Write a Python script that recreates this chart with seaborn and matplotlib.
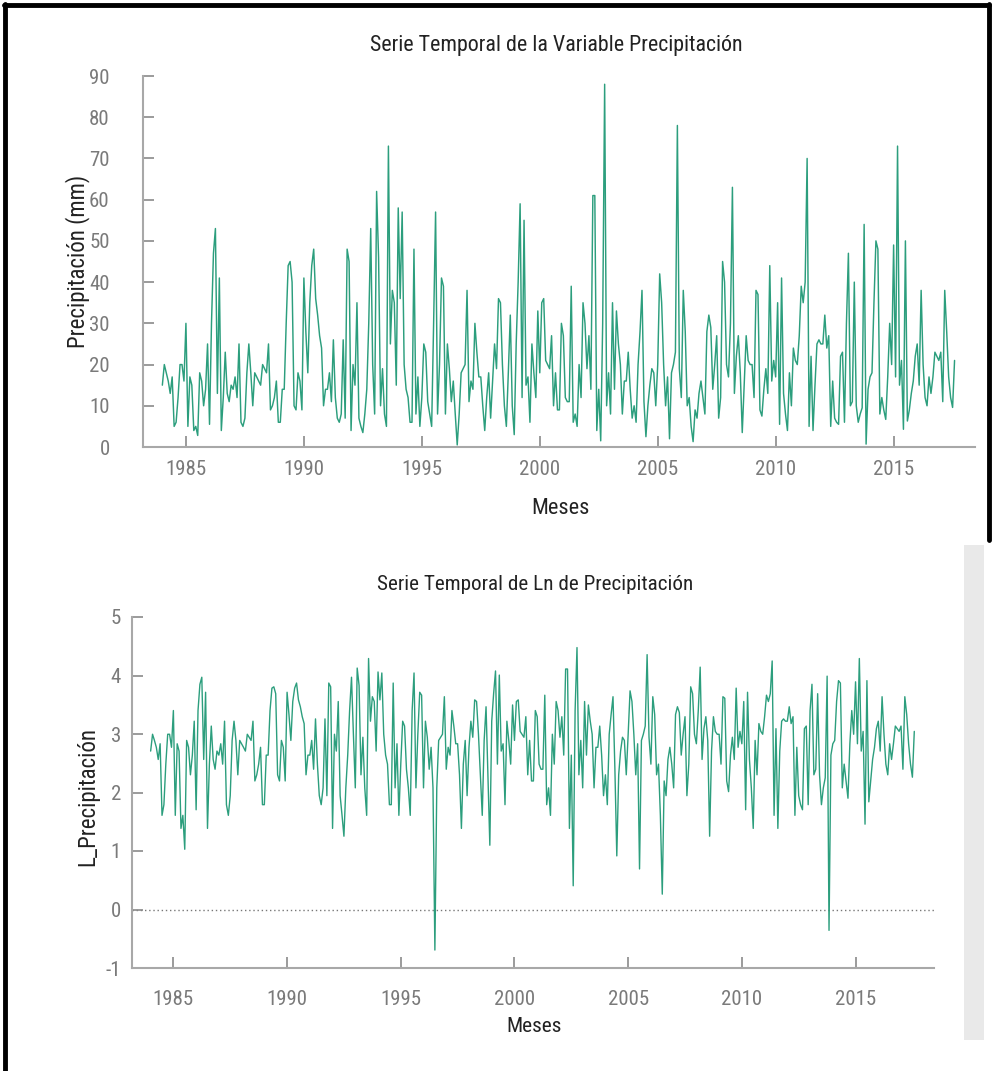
import numpy as np
import pandas as pd
import matplotlib
matplotlib.use("Agg")
import matplotlib.pyplot as plt
import seaborn as sns
from matplotlib.lines import Line2D
from matplotlib.patches import Rectangle
from matplotlib import font_manager

# ---------------- data (monthly precipitation, mm), Jan 1984 - Aug 2017 -------------
start_year = 1984
precip_1984_1988 = [15, 20, 18, 16, 13, 17, 5, 6, 12, 20, 20, 16,
                    30, 5, 17, 15, 4, 5, 2.8, 18, 16, 10, 14, 25,
                    5.5, 30, 47, 53, 13, 41, 4, 12, 23, 13, 11, 15,
                    14, 17, 12, 25, 6, 5, 7, 18, 25, 18, 10, 18,
                    17, 16, 15, 20, 19, 18, 25, 9, 10, 12, 16, 6]
precip_1989_1993 = [6, 14, 14, 30, 44, 45, 40, 10, 9, 18, 16, 9,
                    41, 28, 18, 35, 44, 48, 36, 32, 27, 24, 10, 14,
                    14, 18, 11, 26, 12, 7, 6, 8, 26, 7, 48, 45,
                    4, 20, 15, 35, 7, 5, 3.5, 8, 14, 30, 53, 20,
                    8, 62, 46, 10, 19, 8, 5, 73, 25, 38, 35, 15]
precip_1994_1998 = [58, 36, 57, 20, 14, 12, 6, 6, 48, 8, 17, 5,
                    12, 25, 23, 11, 8, 5, 30, 57, 8, 20, 41, 39,
                    8, 25, 19, 11, 16, 8, 0.5, 8, 18, 19, 20, 38,
                    11, 16, 14, 30, 23, 17, 17, 10, 4, 12, 18, 7,
                    16, 25, 19, 36, 35, 20, 10, 5, 18, 32, 10, 3]
precip_1999_2003 = [25, 40, 59, 12, 55, 15, 17, 6, 25, 18, 12, 33,
                    18, 35, 36, 21, 20, 19, 27, 10, 18, 9, 9, 30,
                    27, 12, 11, 11, 39, 6, 8, 5, 20, 12, 35, 30,
                    19, 27, 14, 61, 61, 4, 14, 1.5, 30, 88, 10, 18,
                    8, 35, 14, 33, 25, 20, 8, 16, 16, 23, 14, 7]
precip_2004_2008 = [10, 6, 20, 28, 38, 11, 2.5, 10, 15, 19, 18, 10,
                    20, 42, 35, 20, 10, 17, 2, 18, 20, 23, 78, 19,
                    12, 38, 28, 10, 12, 5, 1.3, 9, 7, 13, 16, 12,
                    8, 28, 32, 29, 14, 20, 27, 7, 12, 45, 40, 20,
                    17, 30, 63, 13, 22, 27, 18, 3.5, 15, 27, 21, 20]
precip_2009_2013 = [20, 12, 38, 37, 9, 7.5, 14, 19, 13, 44, 16, 21,
                    17, 35, 5.5, 41, 13, 8, 4, 18, 10, 24, 21, 20,
                    27, 39, 35, 40, 70, 5, 22, 4, 15, 25, 26, 25,
                    25, 32, 24, 27, 5, 16, 7, 6, 5.5, 22, 23, 6,
                    30, 47, 10, 11, 40, 10, 6, 8, 9.5, 54, 0.7, 14]
precip_2014_2017 = [17, 18, 35, 50, 48, 8, 12, 9, 6.7, 17, 30, 20,
                    49, 17, 73, 15, 21, 4.3, 50, 6.3, 9, 13, 16, 22,
                    25, 15, 38, 20, 12, 10, 17, 13, 17, 23, 22, 21,
                    23, 11, 38, 28, 17, 12, 9.6, 21]

year_ticks = [1985, 1990, 1995, 2000, 2005, 2010, 2015]
top_yticks = [0, 10, 20, 30, 40, 50, 60, 70, 80, 90]
bot_yticks = [-1, 0, 1, 2, 3, 4, 5]

precip = np.array(precip_1984_1988 + precip_1989_1993 + precip_1994_1998 +
                  precip_1999_2003 + precip_2004_2008 + precip_2009_2013 +
                  precip_2014_2017, dtype=float)
dates = pd.date_range(f"{start_year}-01-01", periods=len(precip), freq="MS")
anio = dates.year + (dates.month - 1) / 12.0
df = pd.DataFrame({"anio": anio, "precip": precip, "lprecip": np.log(precip)})

# ---------------- style ----------------
sns.set_theme(style="white")
names = {f.name for f in font_manager.fontManager.ttflist}
narrow = [n for n in ("Liberation Sans Narrow", "DejaVu Sans Condensed",
                      "Roboto Condensed", "Open Sans Condensed") if n in names]
plt.rcParams["font.family"] = narrow + ["DejaVu Sans"]
plt.rcParams["font.stretch"] = "condensed"
plt.rcParams["axes.unicode_minus"] = False

W, H = 993, 1071
fig = plt.figure(figsize=(W / 100, H / 100), dpi=100)
fig.patch.set_facecolor("white")

LINE = "#2c9e7d"
AXC = "#a8a8a8"
TICKC = "#7a7a7a"
TXT = "#222222"


def fx(x):
    return x / W


def fy(y):
    return 1 - y / H


def axes_px(l, t, r, b):
    return fig.add_axes([fx(l), fy(b), (r - l) / W, (b - t) / H])


def style_axes(ax, ypad, xpad, size):
    for s in ("top", "right"):
        ax.spines[s].set_visible(False)
    for s in ("left", "bottom"):
        ax.spines[s].set_color(AXC)
        ax.spines[s].set_linewidth(1.5)
    ax.tick_params(axis="both", direction="in", length=8, width=1.2,
                   color="#8a8a8a", labelcolor=TICKC, labelsize=size,
                   bottom=True, left=True, top=False, right=False)
    ax.tick_params(axis="y", pad=ypad)
    ax.tick_params(axis="x", pad=xpad)
    ax.set_xlabel("")
    ax.set_ylabel("")
    ax.grid(False)
    ax.set_facecolor("white")


# ---------------- top panel ----------------
ax1 = axes_px(143, 76, 975, 447)
sns.lineplot(data=df, x="anio", y="precip", ax=ax1, color=LINE, lw=1.05,
             legend=False)
ax1.set_xlim(1983.18, 2018.45)
ax1.set_ylim(0, 90)
ax1.set_xticks(year_ticks)
ax1.set_yticks(top_yticks)
style_axes(ax1, ypad=24, xpad=9, size=15)

fig.text(fx(556), fy(45), "Serie Temporal de la Variable Precipitación",
         ha="center", va="center", fontsize=15.8, color=TXT)
fig.text(fx(560), fy(508), "Meses", ha="center", va="center",
         fontsize=16, color=TXT)
fig.text(fx(78), fy(261), "Precipitación (mm)", ha="center", va="center",
         rotation=90, fontsize=16.5, color=TXT)

# ---------------- bottom panel ----------------
ax2 = axes_px(132, 617, 934, 968)
sns.lineplot(data=df, x="anio", y="lprecip", ax=ax2, color=LINE, lw=1.0,
             legend=False)
ax2.axhline(0, color="#777777", lw=1.0, ls=(0, (1, 2)), zorder=0)
ax2.set_xlim(1983.18, 2018.45)
ax2.set_ylim(-1, 5)
ax2.set_xticks(year_ticks)
ax2.set_yticks(bot_yticks)
style_axes(ax2, ypad=8, xpad=16, size=15)

fig.text(fx(535), fy(585), "Serie Temporal de Ln de Precipitación",
         ha="center", va="center", fontsize=15.2, color=TXT)
fig.text(fx(534), fy(1027), "Meses", ha="center", va="center",
         fontsize=15.4, color=TXT)
fig.text(fx(88), fy(796), "L_Precipitación", ha="center", va="center",
         rotation=90, fontsize=16.5, color=TXT)

# ---------------- screenshot decorations ----------------
fig.add_artist(Rectangle((fx(964), fy(1040)), (984 - 964) / W, (1040 - 545) / H,
                         transform=fig.transFigure, facecolor="#e9e9e9",
                         edgecolor="none"))
fig.add_artist(Line2D([fx(5), fx(5)], [0, fy(4)], transform=fig.transFigure,
                      color="black", lw=3.5))
fig.add_artist(Line2D([fx(4), fx(989)], [fy(5), fy(5)], transform=fig.transFigure,
                      color="black", lw=3.5))
fig.add_artist(Line2D([fx(989), fx(989)], [fy(4), fy(540)], transform=fig.transFigure,
                      color="black", lw=3.5))

fig.savefig("out.png", dpi=100, facecolor="white")
